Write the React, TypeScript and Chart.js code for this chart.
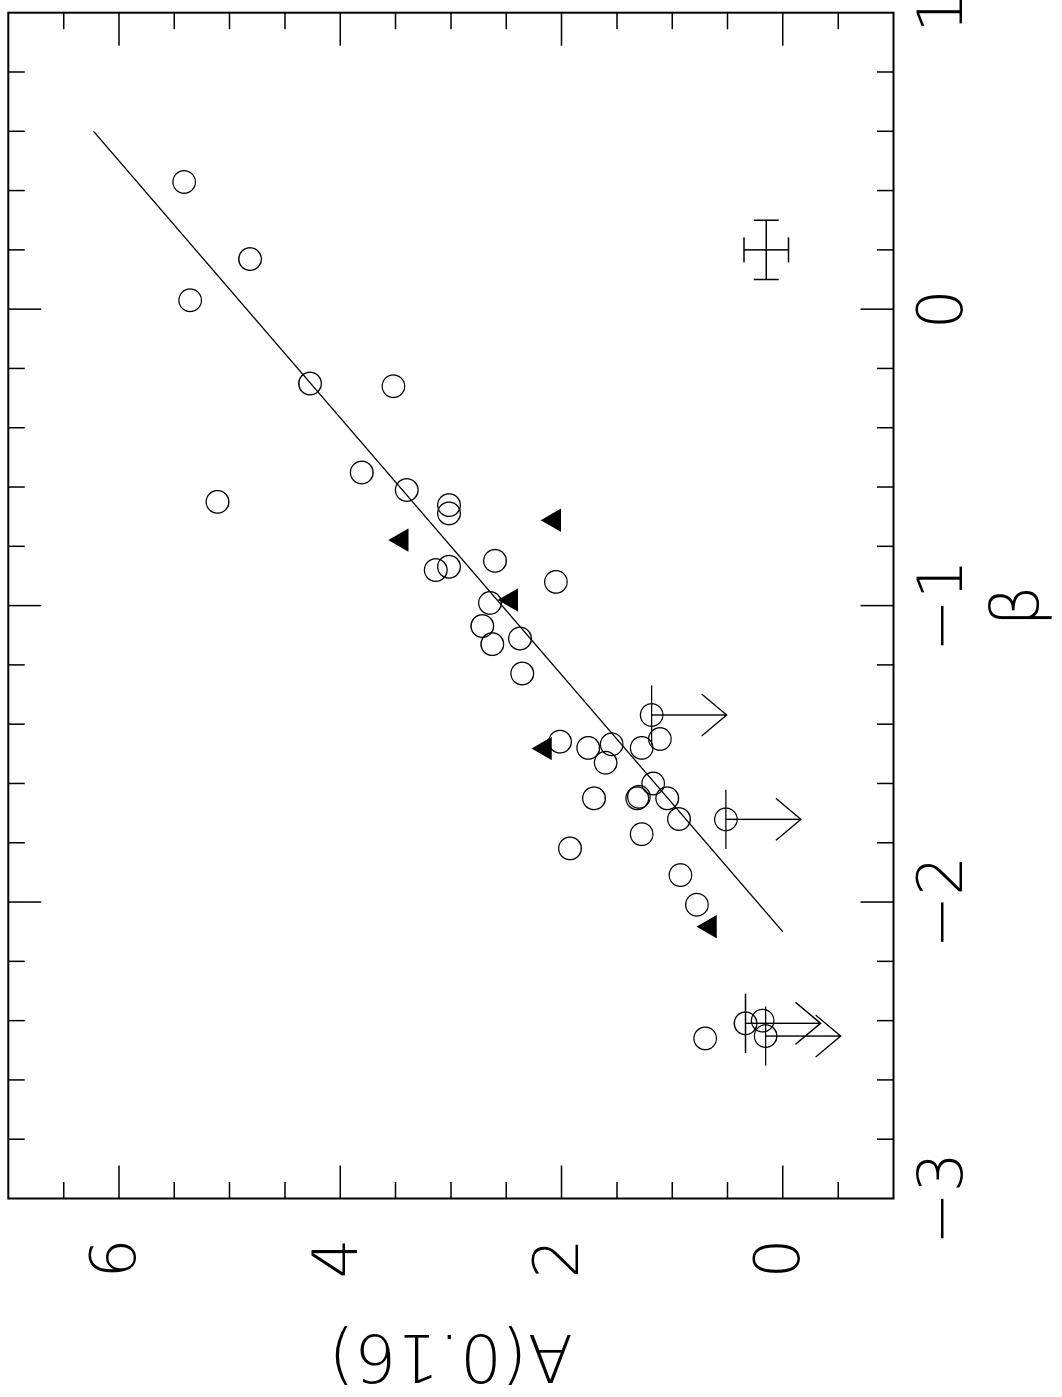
import React, { useEffect, useRef } from "react";
import { Chart, registerables } from "chart.js";

Chart.register(...registerables);

// ---- data (β on the horizontal axis of the unrotated plot, A(0.16) on the vertical) ----
const CIRCLE_BETA = [
  0.429, 0.169, 0.03, -0.251, -0.26, -0.551, -0.61, -0.65, -0.661, -0.689,
  -0.88, -0.869, -0.849, -0.92, -0.991, -1.069, -1.13, -1.111, -1.229, -1.459,
  -1.48, -1.468, -1.53, -1.48, -1.45, -1.6, -1.645, -1.65, -1.65, -1.65,
  -1.72, -1.771, -1.819, -1.909, -2.009, -2.46, -2.4,
];
const CIRCLE_A = [
  5.411, 4.815, 5.357, 4.273, 3.52, 3.806, 3.399, 5.11, 3.017, 3.017,
  3.137, 3.017, 2.602, 2.051, 2.647, 2.716, 2.626, 2.376, 2.355, 2.014,
  1.759, 1.547, 1.602, 1.276, 1.111, 1.172, 1.301, 1.316, 1.045, 1.707,
  0.939, 1.276, 1.924, 0.926, 0.777, 0.702, 0.183,
];

// upper limits in A (circle + β error bar + arrow towards lower A)
const LIMIT_BETA = [-1.369, -1.721, -2.409, -2.452];
const LIMIT_A = [1.186, 0.515, 0.337, 0.156];
const LIMIT_BETA_ERR = [0.1, 0.1, 0.1, 0.1];

// filled triangles
const TRI_BETA = [-0.779, -0.712, -0.981, -1.482, -2.083];
const TRI_A = [3.445, 2.066, 2.454, 2.15, 0.659];

// fitted line
const FIT_BETA = [-2.1, 0.6];
const FIT_A = [0.0, 6.23];

// typical error bar
const ERR_BETA = [0.2];
const ERR_A = [0.15];
const ERR_BETA_SIZE = [0.1];
const ERR_A_SIZE = [0.2];

// axes
const BETA_RANGE = [-3, 1];
const A_RANGE = [-1, 7];
const BETA_LABEL_TICKS = [-3, -2, -1, 0, 1];
const A_LABEL_TICKS = [0, 2, 4, 6];
const BETA_MINOR_STEP = 0.2;
const A_MINOR_STEP = 0.5;
const A_MAJOR_STEP = 2;

const X_TITLE = "\u03b2";
const Y_TITLE = "A(0.16)";

// ---- styles ----
const W = 1397;
const H = 1062;
const FONT = '"DejaVu Sans", "Liberation Sans", sans-serif';
const MAJOR_LEN = 33;
const MINOR_LEN = 16.5;
const ARROW_PX = 75;
const HEAD_LEN = 25;
const HEAD_HALF = 21;
const CAP_HALF = 12.5;

const fmt = (v: number) => (v < 0 ? "\u2212" + Math.abs(v) : String(v));

const decorPlugin = {
  id: "decor",
  afterDatasetsDraw(chart: any) {
    const { ctx, chartArea: a, scales } = chart;
    const xs = scales.x;
    const ys = scales.y;
    ctx.save();
    ctx.strokeStyle = "#000";
    ctx.lineCap = "butt";

    // inward ticks on all four sides
    ctx.lineWidth = 1.5;
    ctx.beginPath();
    const nb = Math.round((BETA_RANGE[1] - BETA_RANGE[0]) / BETA_MINOR_STEP);
    for (let i = 1; i < nb; i++) {
      const b = BETA_RANGE[0] + i * BETA_MINOR_STEP;
      const major = Math.abs(b - Math.round(b)) < 1e-6;
      const len = major ? MAJOR_LEN : MINOR_LEN;
      const px = xs.getPixelForValue(b);
      ctx.moveTo(px, a.top);
      ctx.lineTo(px, a.top + len);
      ctx.moveTo(px, a.bottom);
      ctx.lineTo(px, a.bottom - len);
    }
    const na = Math.round((A_RANGE[1] - A_RANGE[0]) / A_MINOR_STEP);
    for (let i = 1; i < na; i++) {
      const v = A_RANGE[0] + i * A_MINOR_STEP;
      const r = v / A_MAJOR_STEP;
      const major = Math.abs(r - Math.round(r)) < 1e-6;
      const len = major ? MAJOR_LEN : MINOR_LEN;
      const py = ys.getPixelForValue(v);
      ctx.moveTo(a.left, py);
      ctx.lineTo(a.left + len, py);
      ctx.moveTo(a.right, py);
      ctx.lineTo(a.right - len, py);
    }
    ctx.stroke();

    // frame
    ctx.lineWidth = 2;
    ctx.strokeRect(a.left, a.top, a.right - a.left, a.bottom - a.top);

    // typical error bar
    ctx.lineWidth = 1.5;
    ctx.beginPath();
    for (let i = 0; i < ERR_BETA.length; i++) {
      const cx = xs.getPixelForValue(ERR_BETA[i]);
      const cy = ys.getPixelForValue(ERR_A[i]);
      const x1 = xs.getPixelForValue(ERR_BETA[i] - ERR_BETA_SIZE[i]);
      const x2 = xs.getPixelForValue(ERR_BETA[i] + ERR_BETA_SIZE[i]);
      const y1 = ys.getPixelForValue(ERR_A[i] - ERR_A_SIZE[i]);
      const y2 = ys.getPixelForValue(ERR_A[i] + ERR_A_SIZE[i]);
      ctx.moveTo(x1, cy); ctx.lineTo(x2, cy);
      ctx.moveTo(x1, cy - CAP_HALF); ctx.lineTo(x1, cy + CAP_HALF);
      ctx.moveTo(x2, cy - CAP_HALF); ctx.lineTo(x2, cy + CAP_HALF);
      ctx.moveTo(cx, y1); ctx.lineTo(cx, y2);
      ctx.moveTo(cx - CAP_HALF, y1); ctx.lineTo(cx + CAP_HALF, y1);
      ctx.moveTo(cx - CAP_HALF, y2); ctx.lineTo(cx + CAP_HALF, y2);
    }
    ctx.stroke();

    // upper-limit arrows and β bars
    ctx.lineWidth = 1.4;
    ctx.beginPath();
    for (let i = 0; i < LIMIT_BETA.length; i++) {
      const cx = xs.getPixelForValue(LIMIT_BETA[i]);
      const cy = ys.getPixelForValue(LIMIT_A[i]);
      const x1 = xs.getPixelForValue(LIMIT_BETA[i] - LIMIT_BETA_ERR[i]);
      const x2 = xs.getPixelForValue(LIMIT_BETA[i] + LIMIT_BETA_ERR[i]);
      ctx.moveTo(x1, cy); ctx.lineTo(x2, cy);
      const tip = cy + ARROW_PX;
      ctx.moveTo(cx, cy); ctx.lineTo(cx, tip);
      ctx.moveTo(cx - HEAD_HALF, tip - HEAD_LEN);
      ctx.lineTo(cx, tip);
      ctx.lineTo(cx + HEAD_HALF, tip - HEAD_LEN);
    }
    ctx.stroke();
    ctx.restore();
  },
};

export default function App() {
  const ref = useRef<HTMLCanvasElement>(null);

  useEffect(() => {
    if (!ref.current) return;
    const circles = CIRCLE_BETA.map((b, i) => ({ x: b, y: CIRCLE_A[i] }));
    const limits = LIMIT_BETA.map((b, i) => ({ x: b, y: LIMIT_A[i] }));
    const tris = TRI_BETA.map((b, i) => ({ x: b, y: TRI_A[i] }));
    const fit = FIT_BETA.map((b, i) => ({ x: b, y: FIT_A[i] }));

    const tickFont = { family: FONT, size: 63, weight: "200" as any, lineHeight: 1.2 };
    const titleFont = { family: FONT, size: 66, weight: "200" as any, lineHeight: 1.2 };

    const chart = new Chart(ref.current, {
      type: "scatter",
      data: {
        datasets: [
          { type: "line", data: fit, borderColor: "#000", borderWidth: 1.3, pointRadius: 0, showLine: true, fill: false } as any,
          { data: circles, pointStyle: "circle", pointRadius: 11.3, borderColor: "#000", borderWidth: 1.3, backgroundColor: "rgba(0,0,0,0)" },
          { data: limits, pointStyle: "circle", pointRadius: 11.3, borderColor: "#000", borderWidth: 1.3, backgroundColor: "rgba(0,0,0,0)" },
          { data: tris, pointStyle: "triangle", pointRadius: 13.5, borderColor: "#000", borderWidth: 0, backgroundColor: "#000" },
        ],
      },
      options: {
        responsive: false,
        animation: false,
        events: [],
        layout: { autoPadding: false, padding: { left: 0, top: 8.3, right: 12.7, bottom: 0 } },
        plugins: { legend: { display: false }, tooltip: { enabled: false } },
        scales: {
          x: {
            type: "linear",
            position: "bottom",
            min: BETA_RANGE[0],
            max: BETA_RANGE[1],
            grid: { display: false, drawTicks: false },
            border: { display: false },
            ticks: {
              autoSkip: false, maxRotation: 0, minRotation: 0, padding: 14, color: "#000",
              font: tickFont, callback: (v: any) => fmt(Number(v)),
            },
            title: { display: true, text: X_TITLE, color: "#000", font: titleFont, padding: { top: 0, bottom: 1.6 } },
            afterBuildTicks: (s: any) => { s.ticks = BETA_LABEL_TICKS.map((v) => ({ value: v })); },
            afterFit: (s: any) => { s.height = H - 893.5; s.paddingLeft = 0; s.paddingRight = 0; },
          },
          y: {
            type: "linear",
            position: "left",
            min: A_RANGE[0],
            max: A_RANGE[1],
            grid: { display: false, drawTicks: false },
            border: { display: false },
            ticks: { autoSkip: false, padding: 40, color: "#000", font: tickFont, callback: (v: any) => fmt(Number(v)) },
            title: { display: true, text: Y_TITLE, color: "#000", font: titleFont, padding: { top: 4.9, bottom: 0 } },
            afterBuildTicks: (s: any) => { s.ticks = A_LABEL_TICKS.map((v) => ({ value: v })); },
            afterFit: (s: any) => { s.width = 198.5; s.paddingTop = 0; s.paddingBottom = 0; },
          },
        },
      },
      plugins: [decorPlugin],
    } as any);
    return () => chart.destroy();
  }, []);

  return (
    <div style={{ position: "absolute", left: 0, top: 0, width: 1062, height: 1397, overflow: "hidden", background: "#fff" }}>
      <div
        style={{
          position: "absolute", left: 0, top: 0, width: W, height: H,
          transformOrigin: "0 0", transform: `translate(0px, ${W}px) rotate(-90deg)`,
        }}
      >
        <canvas ref={ref} width={W} height={H} style={{ display: "block", width: W, height: H }} />
      </div>
    </div>
  );
}
